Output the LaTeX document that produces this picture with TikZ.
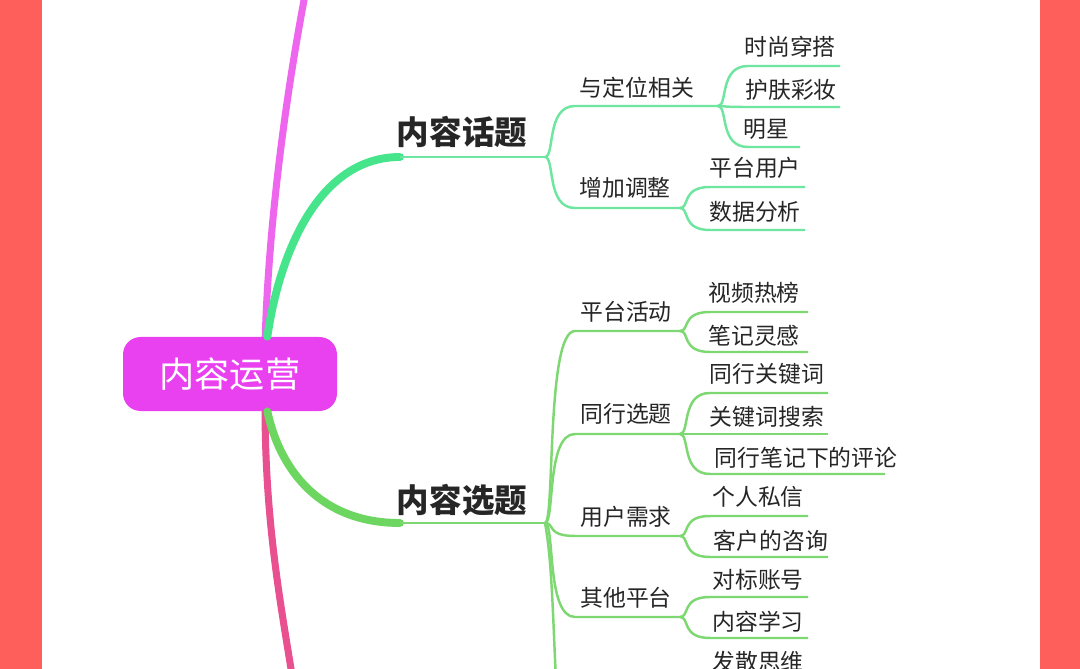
\documentclass[tikz,border=0pt]{standalone}
\usepackage{fontspec}
\setmainfont{Noto Sans CJK SC}
\begin{document}
\begin{tikzpicture}[x=0.02cm,y=-0.02cm,
  leaf/.style={font=\fontsize{13}{14}\selectfont, text=black!85, inner sep=0pt},
  topic/.style={font=\fontsize{18.5}{20}\selectfont\bfseries, text=black!85, inner sep=0pt},
  gA/.style={draw=gA, line width=1.4pt},
  gB/.style={draw=gB, line width=1.4pt}]
\definecolor{bg}{HTML}{FF5F5A}
\definecolor{gA}{HTML}{6FE6A0}
\definecolor{gB}{HTML}{7ED872}
\definecolor{gAd}{HTML}{46E58C}
\definecolor{gBd}{HTML}{6CD660}
\definecolor{pinkA}{HTML}{EE66EE}
\definecolor{pinkB}{HTML}{E8508F}
\definecolor{rootc}{HTML}{E940F0}
\newcommand{\mmbranch}[5]{\draw[#1] (#2,#3) .. controls (#2+10,#3) and (#2+1,#4) .. (#2+30,#4) -- (#5,#4);}
\useasboundingbox (0,0) rectangle (1080,669);
\begin{scope}
\clip (0,0) rectangle (1080,669);
\fill[bg] (0,0) rectangle (1080,669);
\fill[white] (42,0) rectangle (1040,669);
% main pink curves
\draw[pinkA, line width=4pt] (305,-5) .. controls (285,100) and (268,230) .. (265,345);
\draw[pinkB, line width=4pt] (265,405) .. controls (265,520) and (280,600) .. (292,675);
% root
\node[fill=rootc, rounded corners=10pt, minimum width=214*0.02cm, minimum height=74*0.02cm, text=white, font=\fontsize{20}{22}\selectfont] (root) at (230,374) {内容运营};
% topic 1
\node[topic] (t1) at (462,132) {内容话题};
\coordinate (t1b) at (545,157);
\draw[gAd, line width=4.5pt, line cap=round] (root.north east) ++(-70,0) .. controls (280,250) and (320,157) .. (400,157);
\draw[gA] (400,157) -- (t1b);
% topic 2
\node[topic] (t2) at (462,500) {内容选题};
\coordinate (t2b) at (545,523);
\draw[gBd, line width=4.5pt, line cap=round] (root.south east) ++(-70,0) .. controls (280,470) and (320,523) .. (400,523);
\draw[gB] (400,523) -- (t2b);
% level 2 under topic 1
\node[leaf] (a1) at (637,88) {与定位相关};
\node[leaf] (a2) at (625,188) {增加调整};
\mmbranch{gA}{545}{157}{106}{718}
\mmbranch{gA}{545}{157}{208}{680}
\node[leaf] (a11) at (790,47) {时尚穿搭};
\node[leaf] (a12) at (791,90) {护肤彩妆};
\node[leaf] (a13) at (766,129) {明星};
\mmbranch{gA}{718}{106}{66}{840}
\mmbranch{gA}{718}{106}{107}{840}
\mmbranch{gA}{718}{106}{147}{800}
\node[leaf] (a21) at (755,168) {平台用户};
\node[leaf] (a22) at (755,212) {数据分析};
\mmbranch{gA}{680}{208}{187}{805}
\mmbranch{gA}{680}{208}{230}{805}
% level 2 under topic 2
\node[leaf] (b1) at (626,312) {平台活动};
\node[leaf] (b2) at (626,414) {同行选题};
\node[leaf] (b3) at (626,517) {用户需求};
\node[leaf] (b4) at (626,598) {其他平台};
\mmbranch{gB}{545}{523}{331}{680}
\mmbranch{gB}{545}{523}{434}{680}
\mmbranch{gB}{545}{523}{536}{680}
\mmbranch{gB}{545}{523}{617}{680}
\draw[gB] (t2b) .. controls (552,560) and (553,620) .. (556,680);
% leaves
\node[leaf] (b11) at (754,293) {视频热榜};
\node[leaf] (b12) at (754,336) {笔记灵感};
\mmbranch{gB}{680}{331}{312}{808}
\mmbranch{gB}{680}{331}{352}{808}
\node[leaf] (b21) at (767,374) {同行关键词};
\node[leaf] (b22) at (767,417) {关键词搜索};
\node[leaf] (b23) at (806,458) {同行笔记下的评论};
\mmbranch{gB}{680}{434}{393}{828}
\mmbranch{gB}{680}{434}{434}{828}
\mmbranch{gB}{680}{434}{474}{885}
\node[leaf] (b31) at (758,497) {个人私信};
\node[leaf] (b32) at (771,541) {客户的咨询};
\mmbranch{gB}{680}{536}{516}{808}
\mmbranch{gB}{680}{536}{557}{828}
\node[leaf] (b41) at (758,580) {对标账号};
\node[leaf] (b42) at (758,622) {内容学习};
\mmbranch{gB}{680}{617}{597}{808}
\mmbranch{gB}{680}{617}{638}{808}
\node[leaf] (b51) at (758,662) {发散思维};
\end{scope}
\end{tikzpicture}
\end{document}
